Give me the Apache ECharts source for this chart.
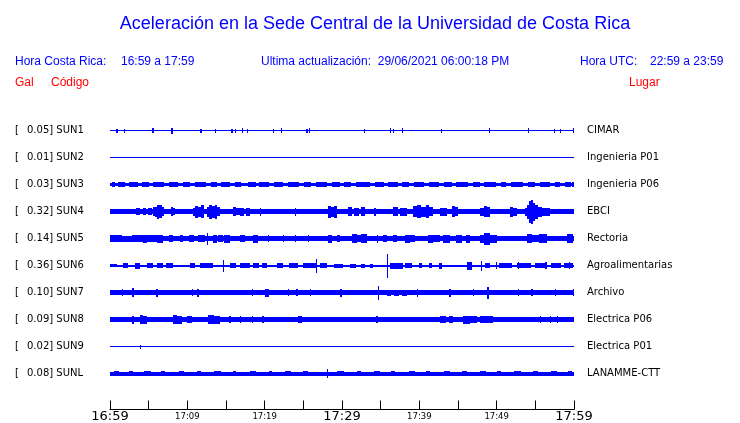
<!DOCTYPE html>
<html><head><meta charset="utf-8">
<script src="https://cdn.jsdelivr.net/npm/echarts@6/dist/echarts.min.js"></script>
<style>html,body{margin:0;padding:0;background:#fff}#c{width:740px;height:423px}</style>
</head><body><div id="c"></div>
<script>
// ---- data ----
const codes = ['SUN1','SUN2','SUN3','SUN4','SUN5','SUN6','SUN7','SUN8','SUN9','SUNL'];
const galValues = ['0.05','0.01','0.03','0.32','0.14','0.36','0.10','0.09','0.02','0.08'];
const places = ['CIMAR','Ingenieria P01','Ingenieria P06','EBCI','Rectoria','Agroalimentarias','Archivo','Electrica P06','Electrica P01','LANAMME-CTT'];
const tickMinutes = [0,10,20,30,40,50,60];
const tickLabels = ['16:59','17:09','17:19','17:29','17:39','17:49','17:59'];
const majorLabels = ['16:59','17:29','17:59'];
// baseline half-amplitude of each trace (relative units)
const baseAmp = [0.7, 0.6, 1.4, 2.5, 2.7, 1.1, 2.5, 2.5, 0.6, 1.8];
// bursts: [start minute, end minute, half-amplitude]
const evSUN1 = [[0.8,1.0,2],[1.75,1.9,2],[5.4,5.7,2.5],[7.95,8.1,3],[11.7,11.85,2],[13.6,13.75,2],[15.7,15.85,2],[16.1,16.25,2],[17.1,17.25,2.5],[17.7,17.85,2],[21.05,21.2,2],[22.1,22.25,2.5],[25.4,25.55,2],[25.7,25.85,2.5],[32.8,32.95,2],[36.2,36.35,2.5],[36.55,36.7,2],[37.75,37.9,2.5],[42.8,42.95,2],[49.0,49.15,2.5],[54.05,54.2,2.5],[57.4,57.55,2],[58.15,58.3,2],[59.85,60,2.5]];
const evSUN2 = [];
const evSUN3 = [[0.2,0.6,2.2],[1.0,1.9,2.2],[2.5,3.6,2.2],[4.2,5.0,2.2],[5.6,7.0,2.2],[7.6,8.8,2.2],[9.4,10.3,2.2],[11.0,12.4,2.2],[13.0,13.8,2.2],[14.4,15.5,2.2],[16.2,17.0,2.2],[17.8,18.9,2.2],[19.3,20.6,2.2],[21.2,22.4,2.2],[23.0,24.5,2.2],[25.1,26.0,2.2],[26.6,28.0,2.2],[28.7,29.8,2.2],[30.3,31.1,2.2],[31.8,33.6,2.2],[34.3,35.4,2.2],[36.0,37.2,2.2],[37.8,38.7,2.2],[39.3,40.6,2.2],[41.2,42.5,2.2],[43.2,44.2,2.2],[44.8,46.3,2.2],[47.0,47.8,2.2],[48.3,49.9,2.2],[50.5,51.2,2.2],[51.8,53.4,2.2],[54.0,55.0,2.2],[55.6,56.9,2.2],[57.5,58.2,2.2],[58.8,59.6,2.2],[59.8,60,2.6]];
const evSUN4 = [[3.4,3.9,3.5],[4.3,4.6,3.5],[4.9,5.4,3.5],[5.5,5.8,4.5],[5.8,6.1,5],[6.1,6.4,7],[6.4,6.7,6.5],[6.7,7.0,4.5],
  [7.9,8.1,4.5],[8.1,8.4,3.5],[10.7,11.0,4],[11.0,11.4,6],[11.4,11.8,5],[11.8,12.2,6.5],[12.5,12.8,5],[12.8,13.2,7],[13.2,13.6,6],[13.6,13.9,7],[13.9,14.2,4.5],
  [15.9,16.3,4.5],[16.3,16.8,3.5],[16.8,17.3,4],[17.6,18.1,4],[19.35,19.5,4],[23.9,24.05,4],[28.2,28.6,6],[28.6,29.0,5],[29.0,29.4,6],
  [30.8,31.3,4.5],[31.6,32.2,4],[32.5,33.0,4.5],[34.2,34.35,4],[36.6,37.2,4.5],[37.5,38.4,4],[39.2,39.7,5.5],[39.7,40.2,6.5],[40.2,40.8,5],[40.8,41.3,6.5],[41.3,41.8,4.5],
  [42.7,43.6,4],[44.2,44.6,5.5],[44.6,45.0,4.5],[47.9,48.3,4],[48.3,48.7,5.5],[48.7,49.2,5],[51.7,52.1,5],[52.1,52.6,4],
  [53.6,53.9,4],[53.9,54.2,7],[54.2,54.45,11],[54.45,54.7,12],[54.7,55.0,9],[55.0,55.4,7],[55.4,55.9,5],[55.9,56.9,4]];
const evSUN5 = [[0,1.5,3.4],[1.5,2.8,3.0],[2.8,4.3,3.4],[4.3,4.8,4],[4.8,6.1,3.2],[6.1,6.9,4],[7.6,8.2,3.5],[9.0,9.5,3.5],[10.2,10.8,3.5],[11.4,12.3,3.5],[12.5,12.65,6],[13.3,13.8,4],[14.0,14.6,3.5],[14.8,15.5,4],[16.8,17.5,3.5],[18.5,19.1,4],[20.4,20.55,3.5],[22.35,22.5,3.5],[23.9,24.05,3.5],[25.6,25.75,3.5],[28.2,28.7,4],[29.35,29.75,3.5],[31.3,31.9,4.5],[31.9,32.4,3.8],[32.4,33.2,4.5],[34.5,34.65,4],[35.3,35.8,3.5],[36.6,37.1,3.5],[38.15,38.8,4],[38.8,39.45,3.5],[41.1,41.8,4],[41.8,42.7,3.5],[43.1,44.0,4],[44.8,45.5,4],[46.0,46.6,4],[47.9,48.3,4],[48.3,49.1,6],[49.1,50.0,4],[53.9,54.6,4.5],[54.6,55.5,3.8],[55.5,56.5,4.5],[59.1,59.9,4.5]];
const evSUN6 = [[0,0.9,1.5],[1.7,2.3,2.5],[3.2,3.9,3],[4.8,5.5,2.5],[6.1,6.8,2.5],[7.3,8.1,2.5],[10.35,11.0,2.5],[11.6,13.3,2.5],[14.55,14.7,6],[15.5,16.3,2.5],[16.8,18.1,2.5],[18.5,19.3,2.5],[19.6,20.3,2.5],[21.6,22.4,2.5],[23.1,24.3,2.5],[25.0,26.8,2.5],[26.65,26.8,7],[27.2,28.1,2.5],[29.0,30.1,2],[31.0,31.8,2],[32.5,33.0,2],[33.6,34.0,2],[35.85,36.0,12],[36.2,37.9,3],[38.15,39.05,2.5],[39.9,40.3,2.5],[41.2,41.6,2.5],[42.5,42.9,3],[46.2,46.8,4],[48.0,48.15,5],[48.5,49.1,2.5],[49.85,50.0,3.5],[50.3,52.0,2.5],[52.6,54.5,2.5],[52.7,52.85,3.2],[55.0,56.2,2.5],[56.3,56.45,3.2],[57.0,58.3,2.5],[58.7,59.9,2.5],[59.3,59.45,3.2]];
const evSUN7 = [[1.5,1.65,3.5],[2.9,3.05,4.5],[6.0,6.15,4],[10.55,10.7,3.5],[11.3,11.45,4],[18.3,18.45,3.5],[20.1,20.5,4],[23.0,23.15,3.5],[24.1,24.25,3.5],[25.8,25.95,3.5],[29.8,29.95,4],[34.6,34.75,7],[35.8,36.3,3],[36.7,37.4,3],[37.8,38.4,3],[39.65,39.8,4],[43.9,44.05,4],[46.9,47.05,3.5],[48.8,48.95,6],[52.7,52.85,3.5],[54.5,54.65,3.5],[57.5,57.65,3.5],[59.85,60,3.5]];
const evSUN8 = [[2.9,3.05,4],[3.9,4.3,4.5],[4.3,4.8,3.8],[8.15,8.7,4.5],[8.7,9.3,3.8],[9.95,10.6,3.5],[12.7,13.4,4.5],[13.4,14.2,4],[15.45,15.6,3.5],[16.75,16.9,3.5],[18.3,18.45,3.5],[19.7,19.85,3.5],[24.3,24.8,3.5],[34.45,34.6,3.5],[42.7,43.4,3.5],[43.8,44.35,3.5],[45.65,46.5,4],[46.5,47.45,3.5],[47.85,49.5,3.5],[55.55,55.7,3.5],[56.85,57.0,3.5],[57.75,57.9,3.5]];
const evSUN9 = [[3.88,4.0,1.8]];
const evSUNL = [[0.5,1.2,2.4],[2.4,3.0,2.4],[4.4,5.3,2.4],[6.6,7.1,2.4],[8.9,9.6,2.4],[11.2,11.8,2.4],[13.4,14.3,2.4],[15.9,16.3,2.4],[18.1,18.9,2.4],[20.5,21.0,2.4],[22.6,23.4,2.4],[25.0,25.6,2.4],[28.05,28.2,4.5],[29.4,30.2,2.4],[31.9,32.5,2.4],[34.1,34.9,2.4],[36.3,36.8,2.4],[38.6,39.5,2.4],[40.9,41.4,2.4],[43.2,44.0,2.4],[45.5,46.1,2.4],[47.8,48.6,2.4],[50.1,50.6,2.4],[52.3,53.2,2.4],[54.7,55.3,2.4],[57.0,57.8,2.4],[59.2,59.7,2.4]];
const events = [evSUN1, evSUN2, evSUN3, evSUN4, evSUN5, evSUN6, evSUN7, evSUN8, evSUN9, evSUNL];

// ---- build ----
const AMP_UNIT = 1 / 27; // relative amplitude -> row spacing
const traceData = [];
codes.forEach((c, i) => {
  traceData.push([i, 0, 60, baseAmp[i]]);
  events[i].forEach(e => traceData.push([i, e[0], e[1], e[2]]));
});

const BLUE = '#0000ff', RED = '#ff0000';
const chart = echarts.init(document.getElementById('c'), null, {renderer: 'canvas'});
const hdr = {fontFamily: '"Liberation Sans", Arial, sans-serif', fontSize: 12, fill: BLUE};
function t(x, y, text, extra) {
  return {type: 'text', x: x, y: y, style: Object.assign({}, hdr, {text: text, textVerticalAlign: 'middle'}, extra || {})};
}
const yLab = v => v >= 0 && v <= 9 && v === Math.round(v);
chart.setOption({
  animation: false,
  backgroundColor: '#fff',
  grid: {left: 110, right: 166, top: 103.5, bottom: 13.5},
  xAxis: {
    type: 'value', min: 0, max: 60, interval: 5, position: 'bottom',
    axisLine: {show: true, onZero: false, lineStyle: {color: '#000', width: 1}},
    axisTick: {show: true, inside: true, length: 9, lineStyle: {color: '#000', width: 1}},
    splitLine: {show: false},
    axisLabel: {
      show: true, margin: 1, showMinLabel: true, showMaxLabel: true,
      formatter: v => {
        const k = tickMinutes.indexOf(v);
        if (k < 0) return '';
        const lab = tickLabels[k];
        return majorLabels.indexOf(lab) >= 0 ? '{big|' + lab + '}' : '{small|' + lab + '}';
      },
      rich: {
        big: {fontFamily: '"DejaVu Sans"', fontSize: 13, color: '#000', lineHeight: 12},
        small: {fontFamily: '"DejaVu Sans"', fontSize: 8.5, color: '#000', lineHeight: 12}
      }
    }
  },
  yAxis: [{
    type: 'value', min: -1, max: 10.32, interval: 1, inverse: true, position: 'left',
    axisLine: {show: false}, axisTick: {show: false}, splitLine: {show: false},
    axisLabel: {
      show: true, align: 'left', margin: 95,
      formatter: v => yLab(v) ? '{a|[}{b|' + galValues[v] + '] ' + codes[v] + '}' : '',
      rich: {
        a: {fontFamily: '"DejaVu Sans"', fontSize: 10, color: '#000', width: 12},
        b: {fontFamily: '"DejaVu Sans"', fontSize: 10, color: '#000'}
      }
    }
  }, {
    type: 'value', min: -1, max: 10.32, interval: 1, inverse: true, position: 'right',
    axisLine: {show: false}, axisTick: {show: false}, splitLine: {show: false},
    axisLabel: {
      show: true, align: 'left', margin: 13,
      fontFamily: '"DejaVu Sans"', fontSize: 10, color: '#000',
      formatter: v => yLab(v) ? places[v] : ''
    }
  }],
  series: [{
    type: 'custom',
    data: traceData,
    encode: {x: [1, 2], y: 0},
    renderItem: (params, api) => {
      const i = api.value(0), s = api.value(1), e = api.value(2), a = api.value(3) * AMP_UNIT;
      const p1 = api.coord([s, i - a]);
      const p2 = api.coord([e, i + a]);
      let x0 = Math.round(p1[0]), x1 = Math.round(p2[0]);
      let y0 = Math.round(p1[1]), y1 = Math.round(p2[1]);
      if (x1 - x0 < 1) x1 = x0 + 1;
      if (y1 - y0 < 1) y1 = y0 + 1;
      return {type: 'rect', shape: {x: x0, y: y0, width: x1 - x0, height: y1 - y0}, style: {fill: BLUE}};
    }
  }],
  graphic: [
    {type: 'text', x: 375, y: 24, style: {text: 'Aceleración en la Sede Central de la Universidad de Costa Rica', fontFamily: '"Liberation Sans", Arial, sans-serif', fontSize: 18, fill: BLUE, textAlign: 'center', textVerticalAlign: 'middle'}},
    t(15, 62, 'Hora Costa Rica:'),
    t(121, 62, '16:59 a 17:59'),
    t(261, 62, 'Ultima actualización:  29/06/2021 06:00:18 PM'),
    t(580, 62, 'Hora UTC:'),
    t(650, 62, '22:59 a 23:59'),
    t(15, 83, 'Gal', {fill: RED}),
    t(51, 83, 'Código', {fill: RED}),
    t(629, 83, 'Lugar', {fill: RED})
  ]
});
</script></body></html>
